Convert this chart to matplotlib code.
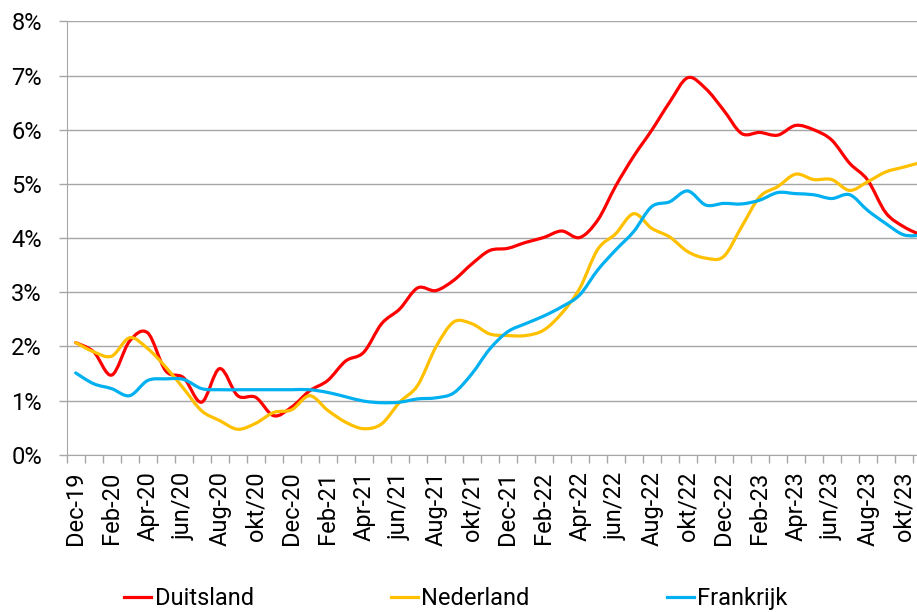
import numpy as np
import matplotlib.pyplot as plt
from matplotlib.path import Path
from matplotlib.patches import PathPatch
from matplotlib.lines import Line2D

plt.rcParams['font.family'] = ['Roboto', 'DejaVu Sans']

# maanden Dec-19 t/m Nov-23, labels om de 2 maanden
tick_labels = ['Dec-19', 'Feb-20', 'Apr-20', 'jun/20', 'Aug-20', 'okt/20',
               'Dec-20', 'Feb-21', 'Apr-21', 'jun/21', 'Aug-21', 'okt/21',
               'Dec-21', 'Feb-22', 'Apr-22', 'jun/22', 'Aug-22', 'okt/22',
               'Dec-22', 'Feb-23', 'Apr-23', 'jun/23', 'Aug-23', 'okt/23']

duitsland = [2.07, 1.90, 1.47, 2.10, 2.25, 1.55, 1.42, 0.97, 1.59, 1.09, 1.06, 0.72,
             0.88, 1.18, 1.37, 1.73, 1.89, 2.42, 2.69, 3.08, 3.03, 3.22, 3.52, 3.77,
             3.81, 3.92, 4.01, 4.13, 4.01, 4.33, 4.96, 5.51, 5.99, 6.51, 6.96, 6.76,
             6.36, 5.93, 5.95, 5.90, 6.08, 6.00, 5.81, 5.38, 5.07, 4.47, 4.21, 4.05]

nederland = [2.07, 1.90, 1.82, 2.16, 1.96, 1.62, 1.22, 0.81, 0.63, 0.47, 0.58, 0.78,
             0.83, 1.09, 0.82, 0.60, 0.48, 0.57, 0.97, 1.28, 1.98, 2.45, 2.42, 2.23,
             2.20, 2.20, 2.30, 2.61, 3.07, 3.79, 4.08, 4.45, 4.18, 4.02, 3.75, 3.63,
             3.66, 4.21, 4.76, 4.95, 5.18, 5.08, 5.08, 4.88, 5.04, 5.22, 5.31, 5.40]

frankrijk = [1.51, 1.31, 1.22, 1.09, 1.37, 1.40, 1.39, 1.22, 1.20, 1.20, 1.20, 1.20,
             1.20, 1.20, 1.15, 1.07, 0.99, 0.96, 0.97, 1.03, 1.05, 1.14, 1.49, 1.95,
             2.27, 2.42, 2.56, 2.73, 2.95, 3.41, 3.78, 4.12, 4.58, 4.67, 4.87, 4.61,
             4.64, 4.63, 4.70, 4.84, 4.82, 4.80, 4.73, 4.80, 4.51, 4.27, 4.06, 4.05]

series = [('Duitsland', duitsland, '#ff0000'),
          ('Nederland', nederland, '#ffc000'),
          ('Frankrijk', frankrijk, '#00b0f0')]


def smooth_path(y):
    # gladde lijn zoals Excel (Bezier door de punten)
    pts = np.column_stack([np.arange(len(y)), y]).astype(float)
    n = len(pts)
    verts = [pts[0]]
    codes = [Path.MOVETO]
    for i in range(n - 1):
        p0 = pts[max(i - 1, 0)]
        p1 = pts[i]
        p2 = pts[i + 1]
        p3 = pts[min(i + 2, n - 1)]
        verts += [p1 + (p2 - p0) / 6, p2 - (p3 - p1) / 6, p2]
        codes += [Path.CURVE4] * 3
    return Path(verts, codes)


fig = plt.figure(figsize=(9.17, 6.12), dpi=100)
ax = fig.add_axes([0.0727, 0.257, 0.9273, 0.708])

handles = []
for name, vals, col in series:
    patch = PathPatch(smooth_path(vals), facecolor='none', edgecolor=col,
                      lw=2.3, capstyle='round', joinstyle='round')
    ax.add_patch(patch)
    handles.append(Line2D([], [], color=col, lw=2.3, label=name))

ax.set_xlim(-0.5, 46.74)
ax.set_ylim(0, 8)

grid_col = '#a6a6a6'
ax.set_yticks(range(0, 9))
ax.set_yticklabels(['%d%%' % v for v in range(0, 9)])
ax.yaxis.grid(True, color=grid_col, lw=1.0)
ax.set_axisbelow(True)
ax.tick_params(axis='y', length=5.8, color=grid_col, width=1.0, pad=12,
               labelsize=17, labelcolor='black')

# streepjes tussen de maanden, labels in het midden
ax.set_xticks(np.arange(-0.5, 47, 1.0))
ax.set_xticklabels([])
ax.tick_params(axis='x', which='major', length=5.8, color=grid_col, width=1.0)
ax.set_xticks(np.arange(0, 47, 2), minor=True)
ax.set_xticklabels(tick_labels, minor=True, rotation=90, fontsize=17)
ax.tick_params(axis='x', which='minor', length=0, pad=12)

for s in ['top', 'right']:
    ax.spines[s].set_visible(False)
ax.spines['left'].set_color(grid_col)
ax.spines['bottom'].set_color(grid_col)

fig.legend(handles=handles, loc='center', bbox_to_anchor=(0.497, 0.022), ncol=3,
           frameon=False, fontsize=17, handlelength=1.15, handletextpad=0.15,
           columnspacing=5.8)

fig.savefig('out.png', dpi=100)
